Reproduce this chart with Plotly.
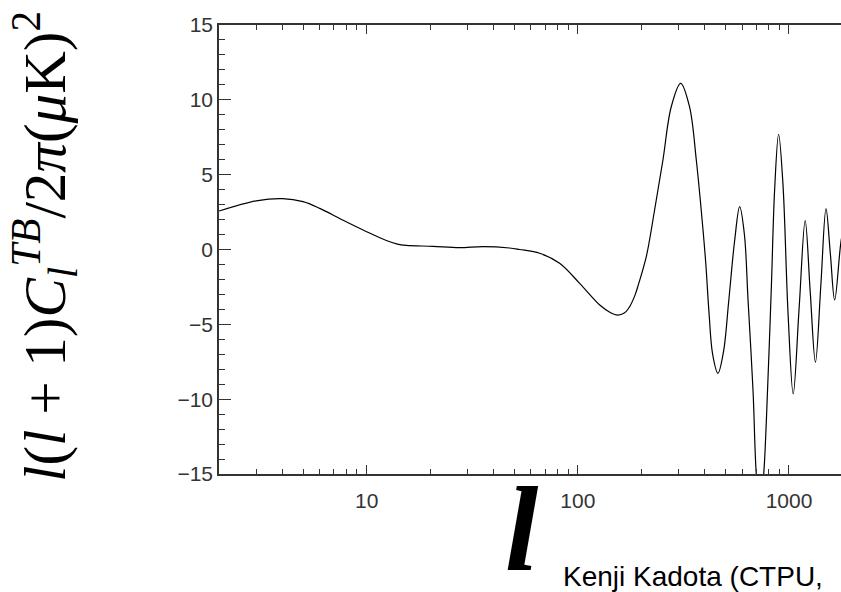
import plotly.graph_objects as go
import numpy as np

# multipole l and l(l+1)C_l^TB/2pi values
ell = [2, 3, 4, 5, 6, 7.7, 10, 12.4, 14, 15.4, 20.6, 27.5, 35.5, 47.5, 53, 66, 82, 102,
       127, 143, 154, 166, 176, 186, 194, 211, 231, 253, 277, 307, 338, 364, 384, 403,
       418, 435, 461, 490, 518, 553, 584, 615, 640, 676, 700, 728, 759, 781, 825, 855,
       893, 936, 990, 1047, 1117, 1193, 1260, 1334, 1415, 1497, 1570, 1645, 1758, 1850]
cl_tb = [2.57, 3.25, 3.4, 3.2, 2.75, 1.97, 1.19, 0.6, 0.36, 0.28, 0.21, 0.12, 0.19, 0.1,
         0.0, -0.25, -0.92, -2.26, -3.71, -4.22, -4.38, -4.25, -3.82, -3.1, -2.3,
         -0.48, 2.64, 5.98, 9.54, 11.1, 9.54, 5.98, 2.64, -0.8, -4.2, -7.0, -8.27,
         -6.8, -3.5, 0.6, 2.86, 1.0, -3.4, -9.5, -15.0, -17.3, -15.0, -11.5, -2.5,
         4.0, 7.7, 4.4, -4.3, -9.65, -3.9, 1.93, -2.8, -7.54, -2.4, 2.73, -0.3,
         -3.37, 0.4, 2.3]

x_tick_vals = [10, 100, 1000]
x_tick_text = ["10", "100", "1000"]
x_minor_vals = [3, 4, 5, 6, 7, 8, 9, 20, 30, 40, 50, 60, 70, 80, 90,
                200, 300, 400, 500, 600, 700, 800, 900, 2000]
y_tick_vals = [-15, -10, -5, 0, 5, 10, 15]
y_tick_text = ["\u221215", "\u221210", "\u22125", "0", "5", "10", "15"]

fig = go.Figure()
fig.add_trace(go.Scatter(x=ell, y=cl_tb, mode="lines",
                         line=dict(color="black", width=1.2, shape="spline", smoothing=1.0),
                         showlegend=False, hoverinfo="skip"))

axis_col = "#333333"
tickfont = dict(family="Liberation Sans, Arial, sans-serif", size=21, color="#333333")

fig.update_xaxes(type="log", range=[np.log10(2), np.log10(1763)],
                 showline=True, linecolor=axis_col, linewidth=1.5, mirror="ticks",
                 showgrid=False, zeroline=False,
                 ticks="inside", ticklen=9, tickwidth=1, tickcolor=axis_col,
                 tickvals=x_tick_vals, ticktext=x_tick_text, tickfont=tickfont,
                 ticklabelstandoff=7,
                 minor=dict(tickvals=x_minor_vals, ticks="inside", ticklen=5,
                            tickwidth=1, tickcolor=axis_col, showgrid=False))
fig.update_yaxes(range=[-15, 15],
                 showline=True, linecolor=axis_col, linewidth=1.5, mirror=False,
                 showgrid=False, zeroline=False,
                 ticks="inside", ticklen=12, tickwidth=1, tickcolor=axis_col,
                 tickvals=y_tick_vals, ticktext=y_tick_text, tickfont=tickfont,
                 minor=dict(dtick=1, ticks="inside", ticklen=6, tickwidth=1,
                            tickcolor=axis_col, showgrid=False))

W, H = 841, 592
ml, mr, mt, mb = 219, 0, 25, 118
pw, ph = W - ml - mr, H - mt - mb

def px_x(p):
    return (p - ml) / pw

def px_y(p):
    return (H - mb - p) / ph

ytitle = ("<i>l</i>(<i>l</i> + 1)<i>C</i><sub><i>l</i></sub><sup><i>TB</i></sup>"
          "/2<i>\u03c0</i>(<i>\u03bc</i>K)<sup>2</sup>")
fig.add_annotation(text=ytitle, xref="paper", yref="paper",
                   x=px_x(44), y=px_y(247), xanchor="center", yanchor="middle",
                   textangle=-90, showarrow=False,
                   font=dict(family="Liberation Serif, Times New Roman, serif", size=59,
                             color="black"))
fig.add_annotation(text="<b><i>l</i></b>", xref="paper", yref="paper",
                   x=px_x(522), y=px_y(529), xanchor="center", yanchor="middle",
                   showarrow=False,
                   font=dict(family="Liberation Serif, Times New Roman, serif", size=120,
                             color="black"))
fig.add_annotation(text="Kenji Kadota (CTPU,", xref="paper", yref="paper",
                   x=px_x(561), y=px_y(576), xanchor="left", yanchor="middle",
                   showarrow=False,
                   font=dict(family="Liberation Sans, Arial, sans-serif", size=28,
                             color="black"))

fig.update_layout(width=W, height=H, margin=dict(l=ml, r=mr, t=mt, b=mb),
                  paper_bgcolor="white", plot_bgcolor="white", showlegend=False)

fig.write_html("out.html")
